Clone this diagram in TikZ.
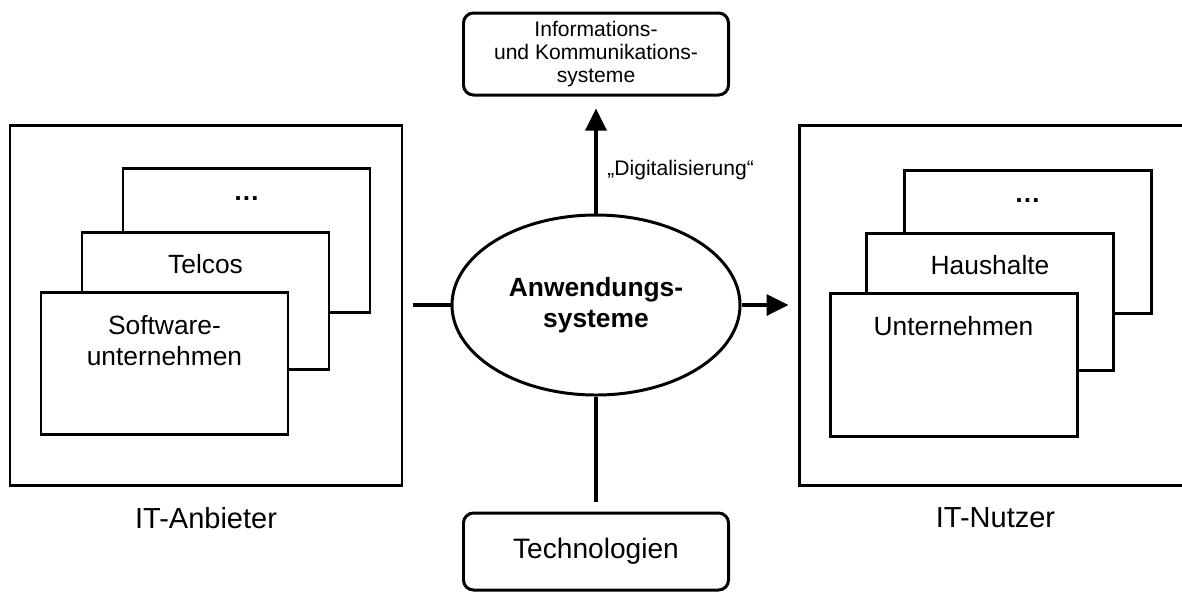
\documentclass[tikz,border=0pt]{standalone}
\usepackage{fontspec}
\setmainfont{Liberation Sans}
\usetikzlibrary{positioning, shapes.geometric, arrows.meta}

\begin{document}
\begin{tikzpicture}[
            outerBox/.style={rectangle, draw, line width=1.7pt, minimum width=7.84cm,
            minimum height=7.2cm, inner sep=0pt},
            stackBox/.style={rectangle, draw, fill=white, line width=1.7pt,
            minimum width=4.94cm, inner sep=0pt},
            roundBox/.style={rectangle, rounded corners=0.2cm, draw, line width=1.7pt,
            minimum width=5.3cm, inner sep=0pt, align=center},
            centralNode/.style={ellipse, draw, line width=1.7pt, minimum width=5.76cm,
            minimum height=3.6cm, inner sep=0pt, align=center,
            font=\fontsize{15}{17.6}\selectfont\bfseries},
            boxText/.style={inner sep=0pt, align=center, anchor=north,
            font=\fontsize{15}{17.6}\selectfont},
            bigText/.style={inner sep=0pt, font=\fontsize{16.5}{19}\selectfont},
            smallText/.style={inner sep=0pt, align=center, font=\fontsize{12}{13.3}\selectfont},
            arrow/.style={line width=2pt, -{Triangle[length=0.44cm, width=0.42cm]}},
            plainLine/.style={line width=2pt},
        ]
        \useasboundingbox (0,0) rectangle (23.64,-11.88);
        \node[outerBox] (itAnbieter) at (4.12,-6.10) {};
        \node[outerBox, minimum width=7.86cm] (itNutzer) at (19.91,-6.10) {};
        \node[centralNode] (anwSysteme) at (11.92,-6.10) {Anwendungs-\\systeme};
        \node[roundBox, minimum height=1.64cm, font=\fontsize{12}{13.3}\selectfont] (infoKomm) at (11.92,-1.08) {Informations-\\und Kommunikations-\\systeme};
        \node[roundBox, minimum height=1.54cm, font=\fontsize{16}{19}\selectfont] (technologien) at (11.92,-11.03) {Technologien};
        % stack of providers
            \path (itAnbieter) ++(0.81,1.30) node[stackBox, minimum height=2.88cm] (anbieterMore) {};
            \path (itAnbieter) ++(-0.01,0.09) node[stackBox, minimum height=2.74cm] (telcos) {};
            \path (itAnbieter) ++(-0.83,-1.16) node[stackBox, minimum height=2.84cm] (softwareU) {};
        % stack of users
            \path (itNutzer) ++(0.64,1.27) node[stackBox, minimum height=2.86cm] (nutzerMore) {};
            \path (itNutzer) ++(-0.11,0.07) node[stackBox, minimum height=2.74cm] (haushalte) {};
            \path (itNutzer) ++(-0.84,-1.19) node[stackBox, minimum height=2.86cm] (unternehmen) {};
        \node[boxText, below=0.6cm of anbieterMore.north] (anbieterMoreText) {\textbf{…}};
        \node[boxText, below=0.48cm of telcos.north] (telcosText) {Telcos};
        \node[boxText, below=0.5cm of softwareU.north] (softwareUText) {Software-\\unternehmen};
        \node[boxText, below=0.6cm of nutzerMore.north] (nutzerMoreText) {\textbf{…}};
        \node[boxText, below=0.48cm of haushalte.north] (haushalteText) {Haushalte};
        \node[boxText, below=0.5cm of unternehmen.north] (unternehmenText) {Unternehmen};
        \node[bigText, below=0.42cm of itAnbieter.south] (anbieterLabel) {IT-Anbieter};
        \node[bigText, below=0.42cm of itNutzer.south] (nutzerLabel) {IT-Nutzer};
            \path (anwSysteme.north) ++(0.22,0.86) node[smallText, anchor=west] (digiLabel) {„Digitalisierung“};
        \draw[plainLine, shorten <=0.2cm] (itAnbieter) -- (anwSysteme);
        \draw[arrow, shorten >=0.18cm] (anwSysteme) -- (itNutzer);
        \draw[arrow, shorten >=0.24cm] (anwSysteme) -- (infoKomm);
        \draw[plainLine, shorten >=0.2cm] (anwSysteme) -- (technologien);
    \end{tikzpicture}
\end{document}
